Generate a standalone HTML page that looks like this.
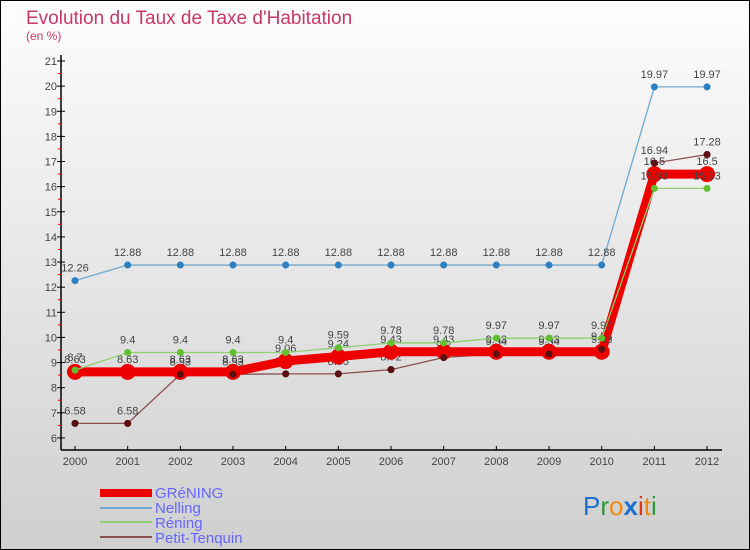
<!DOCTYPE html>
<html><head><meta charset="utf-8"><style>
body{margin:0}
svg{display:block}
text{font-family:"Liberation Sans",sans-serif}
</style></head><body>
<svg id="c" width="750" height="550" xmlns="http://www.w3.org/2000/svg">
<defs><linearGradient id="bg" x1="0" y1="0" x2="0" y2="1"><stop offset="0" stop-color="#fdfdfd"/><stop offset="1" stop-color="#cfcfcf"/></linearGradient></defs>
<rect x="0.5" y="0.5" width="749" height="549" fill="url(#bg)" stroke="#000"/>
<text x="26" y="24" font-size="19" fill="#c8386a">Evolution du Taux de Taxe d'Habitation</text>
<text x="26" y="40" font-size="12" fill="#c8386a">(en %)</text>
<g id="axes"></g>
<g id="series"></g>
<g id="legend" font-size="15" fill="#6666ff">
<rect x="100" y="489" width="52" height="8" fill="#e00"/>
<text x="155" y="498">GRéNING</text>
<rect x="100" y="507" width="52" height="2" fill="#6fa8d0"/>
<text x="155" y="513">Nelling</text>
<rect x="100" y="521" width="52" height="2" fill="#90d070"/>
<text x="155" y="528">Réning</text>
<rect x="100" y="536" width="52" height="2" fill="#8a5050"/>
<text x="155" y="543">Petit-Tenquin</text>
</g>
<g font-size="26" font-family="Liberation Sans">
<text x="583" y="515"><tspan fill="#1a6fd0">P</tspan><tspan fill="#2a9a3a">r</tspan><tspan fill="#f08a10">o</tspan><tspan fill="#1a6fd0" font-weight="bold">x</tspan><tspan fill="#e83010">i</tspan><tspan fill="#f08a10">t</tspan><tspan fill="#2a9a3a">i</tspan></text>
</g>
</svg>
<script>
const years=[2000,2001,2002,2003,2004,2005,2006,2007,2008,2009,2010,2011,2012];
const grening=[8.63,8.63,8.63,8.63,9.06,9.24,9.43,9.43,9.43,9.43,9.43,16.5,16.5];
const nelling=[12.26,12.88,12.88,12.88,12.88,12.88,12.88,12.88,12.88,12.88,12.88,19.97,19.97];
const rening=[8.7,9.4,9.4,9.4,9.4,9.59,9.78,9.78,9.97,9.97,9.97,15.93,15.93];
const petit=[6.58,6.58,8.53,8.53,8.55,8.55,8.72,9.2,9.34,9.34,9.53,16.94,17.28];
const yTicks=[6,7,8,9,10,11,12,13,14,15,16,17,18,19,20,21];
const NS='http://www.w3.org/2000/svg';
const X=i=>75+i*52.67;
const Y=v=>61+(21-v)*25.13;
function mk(tag,attrs,parent){const e=document.createElementNS(NS,tag);for(const k in attrs)e.setAttribute(k,attrs[k]);parent.appendChild(e);return e;}
const ax=document.getElementById('axes');
let l=mk('line',{x1:61,y1:55,x2:61,y2:450,stroke:'#000','stroke-width':1.5},ax);


l=mk('line',{x1:61,y1:450,x2:722,y2:450,stroke:'#000','stroke-width':1.5},ax);


yTicks.forEach(v=>{
  mk('line',{x1:57,x2:65,y1:Y(v),y2:Y(v),stroke:'#000'},ax);
  if(v<21) mk('line',{x1:58,x2:62,y1:Y(v+0.5),y2:Y(v+0.5),stroke:'#e00'},ax);
  const t=mk('text',{x:57,y:Y(v)+4,'text-anchor':'end','font-size':11,fill:'#444'},ax);
  t.textContent=v;
  
  
});
years.forEach((yr,i)=>{
  mk('line',{x1:X(i),x2:X(i),y1:446,y2:450,stroke:'#000'},ax);
  const t=mk('text',{x:X(i),y:465,'text-anchor':'middle','font-size':11,fill:'#444'},ax);
  t.textContent=yr;
  
  
});
const sg=document.getElementById('series');
function series(vals,color,dot,w,r,name,lbl){
  const g=mk('g',{},sg);
  
  
  mk('polyline',{points:vals.map((v,i)=>X(i)+','+Y(v)).join(' '),fill:'none',stroke:color,'stroke-width':w},g);
  vals.forEach((v,i)=>{
    const c=mk('circle',{cx:X(i),cy:Y(v),r:r,fill:dot},g);
    
    
    if(lbl){const t=mk('text',{x:X(i),y:Y(v)-9,'text-anchor':'middle','font-size':11,fill:'#444'},g);t.textContent=v;}
  });
}
series(nelling,'#6fa8d0','#2f80c0',1.3,3.5,'series-nelling',true);
series(petit,'#8a5050','#5a1010',1.3,3.5,'series-petit-tenquin',true);
series(grening,'#e00','#e00',9,8,'series-grening',true);
series(rening,'#90d070','#60c030',1.3,3.5,'series-rening',true);
petit.forEach((v,i)=>mk('circle',{cx:X(i),cy:Y(v),r:3.5,fill:'#5a1010'},sg));
</script>
</body></html>
